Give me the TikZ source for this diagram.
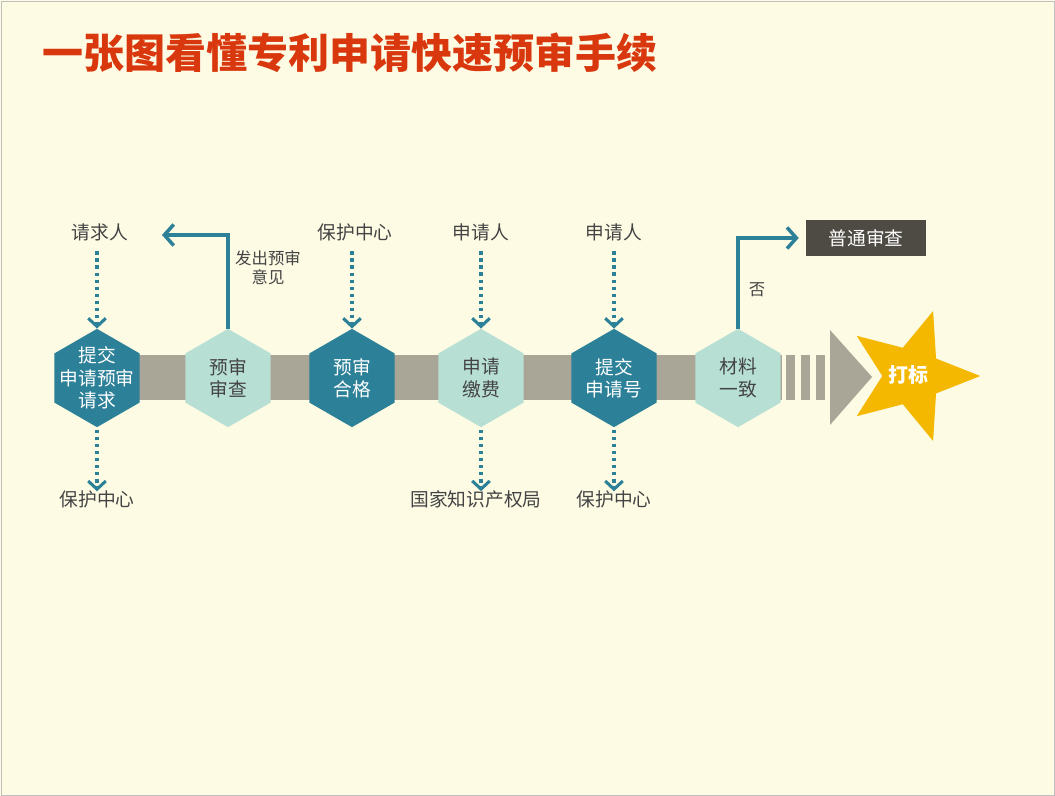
\documentclass[tikz,border=0pt]{standalone}
\usepackage{fontspec}
\setmainfont{Noto Sans CJK SC}
\newfontfamily\titlefont{Noto Sans CJK SC Black}
\usetikzlibrary{shapes.geometric,arrows.meta,positioning}
\definecolor{bgcol}{HTML}{FDFBE4}
\definecolor{tealdark}{HTML}{2C8098}
\definecolor{teallight}{HTML}{B7DFD4}
\definecolor{barcol}{HTML}{A9A597}
\definecolor{starcol}{HTML}{F4B800}
\definecolor{titlecol}{HTML}{D9380E}
\definecolor{boxcol}{HTML}{4E4B44}
\definecolor{txtcol}{HTML}{444444}
\begin{document}
\begin{tikzpicture}[x=0.03cm,y=-0.03cm,font=\fontsize{16}{18}\selectfont,
  hexbase/.style={regular polygon,regular polygon sides=6,shape border rotate=30,
    minimum size=2.95cm,inner sep=0pt},
  hexdark/.style={hexbase,fill=tealdark},
  hexlight/.style={hexbase,fill=teallight},
  hextext/.style={align=center,inner sep=0pt,font=\fontsize{16}{19}\selectfont},
  lbl/.style={text=txtcol,inner sep=1pt},
  flow/.style={tealdark,line width=3.2pt,dash pattern=on 3pt off 3pt,shorten <=8pt,
    -{Straight Barb[length=7pt,width=15pt,line width=2.6pt]}},
  turn/.style={tealdark,line width=3pt,-{Straight Barb[length=8pt,width=18pt,line width=3pt]}}]

% Background
\fill[bgcol] (0,0) rectangle (1055,796);
\draw[gray!50] (1,1) rectangle (1054,795);

% Title
\node[titlecol,anchor=west,font=\titlefont\fontsize{35}{37}\selectfont] (title) at (38,53) {一张图看懂专利申请快速预审手续};

% Main bar
\fill[barcol] (97,355) rectangle (782,400);
\foreach \x in {786,801,816} \fill[barcol] (\x,355) rectangle +(9,45);
\fill[barcol] (830,330) -- (872,377) -- (830,425) -- cycle;
\node[star,star points=5,star point ratio=2.3,fill=starcol,minimum size=4.1cm,
  shape border rotate=-90,inner sep=0pt] (star) at (912,376) {};
\node[white,font=\bfseries\fontsize{17}{19}\selectfont] (mark) at (908,375) {打标};

% Steps
\node[hexdark]  (s1) at (97,378)  {};
\node[hexlight] (s2) at (228,378) {};
\node[hexdark]  (s3) at (352,378) {};
\node[hexlight] (s4) at (481,378) {};
\node[hexdark]  (s5) at (614,378) {};
\node[hexlight] (s6) at (738,378) {};
\node[hextext,white]  at (s1) {提交\\申请预审\\请求};
\node[hextext,txtcol] at (s2) {预审\\审查};
\node[hextext,white]  at (s3) {预审\\合格};
\node[hextext,txtcol] at (s4) {申请\\缴费};
\node[hextext,white]  at (s5) {提交\\申请号};
\node[hextext,txtcol] at (s6) {材料\\一致};

% Labels above and below
\node[lbl] (t1) at (100,232) {请求人};
\node[lbl] (t3) at (355,232) {保护中心};
\node[lbl] (t4) at (481,232) {申请人};
\node[lbl] (t5) at (614,232) {申请人};
\node[lbl] (b1) at (97,499)  {保护中心};
\node[lbl] (b4) at (476,499) {国家知识产权局};
\node[lbl] (b5) at (614,499) {保护中心};

\foreach \a/\b in {t1/s1,t3/s3,t4/s4,t5/s5}
  \draw[flow] (\a.south -| \b.north) -- (\b.north);
\foreach \a/\b in {s1/b1,s4/b4,s5/b5}
  \draw[flow,shorten <=2pt] (\a.south) -- ([yshift=-2pt]\a.south |- \b.north);

% Feedback and branch
\coordinate (back) at (162,235);
\draw[turn] (s2.north) |- (back);
\node[lbl,align=center,font=\fontsize{14}{16}\selectfont] (opinion) at (268,268) {发出预审\\意见};
\node[fill=boxcol,text=white,minimum width=3.6cm,minimum height=1.1cm] (normal) at (866,238) {普通审查};
\draw[turn] (s6.north) |- ([xshift=-6pt]normal.west);
\node[lbl,font=\fontsize{14}{16}\selectfont] (no) at (757,290) {否};
\end{tikzpicture}
\end{document}
